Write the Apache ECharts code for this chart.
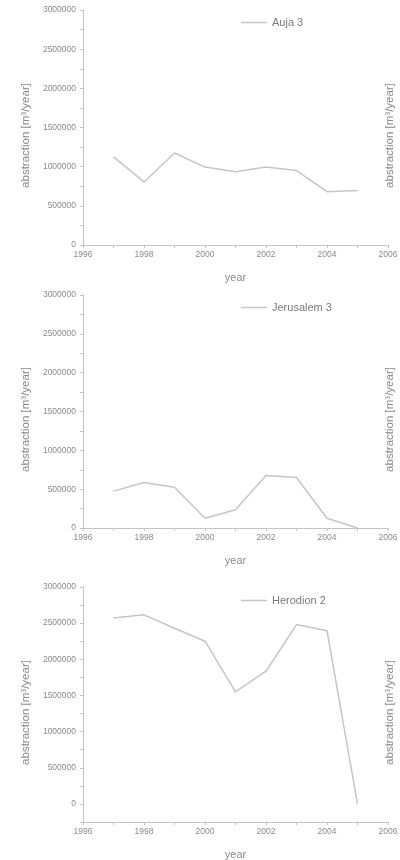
<!DOCTYPE html>
<html><head><meta charset="utf-8">
<script src="https://cdn.jsdelivr.net/npm/echarts@6/dist/echarts.min.js"></script>
<style>html,body{margin:0;padding:0;background:#fff}#c{width:400px;height:860px}</style>
</head><body><div id="c"></div>
<script>
const years = [1997, 1998, 1999, 2000, 2001, 2002, 2003, 2004, 2005];
const auja3 = [1125000, 805000, 1175000, 995000, 935000, 995000, 950000, 680000, 695000];
const jerusalem3 = [475000, 585000, 525000, 125000, 235000, 675000, 650000, 125000, 0];
const herodion2 = [2570000, 2615000, 2430000, 2250000, 1550000, 1835000, 2480000, 2395000, 0];
const seriesNames = ['Auja 3', 'Jerusalem 3', 'Herodion 2'];
const yMins = [0, 0, -250000];
const xTickLabels = ['1996', '1998', '2000', '2002', '2004', '2006'];
const yTitle = 'abstraction [m³/year]';
const xTitle = 'year';

const allData = [auja3, jerusalem3, herodion2];
const grids = [{top: 10, height: 235}, {top: 295, height: 233}, {top: 587, height: 235}];
const legendTops = [12, 297, 590];
const axisColor = '#c4c4c4';
const textColor = '#8a8a8a';
const font = 'Arial, "Liberation Sans", sans-serif';

const option = {animation: false, grid: [], xAxis: [], yAxis: [], series: [], legend: []};
grids.forEach((g, i) => {
  option.grid.push({left: 83, right: 12, top: g.top, height: g.height, containLabel: false, outerBoundsMode: 'none'});
  option.xAxis.push({
    type: 'value', gridIndex: i, min: 1996, max: 2006, interval: 1,
    name: xTitle, nameLocation: 'middle', nameGap: 27,
    nameTextStyle: {color: textColor, fontSize: 11, fontFamily: font},
    axisLine: {onZero: false, lineStyle: {color: axisColor, width: 1}},
    axisTick: {show: true, length: 3, lineStyle: {color: axisColor}},
    axisLabel: {color: textColor, fontSize: 8.5, fontFamily: font, margin: 5,
      formatter: v => (xTickLabels.indexOf(String(v)) >= 0 ? String(v) : '')},
    splitLine: {show: false}
  });
  option.yAxis.push({
    type: 'value', gridIndex: i, min: yMins[i], max: 3000000, interval: 250000,
    name: yTitle, nameLocation: 'middle', nameGap: 49, nameRotate: 90,
    nameTextStyle: {color: textColor, fontSize: 11.5, fontFamily: font, padding: [0, 16, 0, 0]},
    axisLine: {show: true, onZero: false, lineStyle: {color: axisColor, width: 1}},
    axisTick: {show: true, length: 3, lineStyle: {color: axisColor}},
    axisLabel: {color: textColor, fontSize: 8.5, fontFamily: font, margin: 7,
      formatter: v => (v % 500000 === 0 ? String(v) : '')},
    splitLine: {show: false}
  });
  option.yAxis.push({
    type: 'value', gridIndex: i, position: 'right', min: yMins[i], max: 3000000,
    name: yTitle, nameLocation: 'middle', nameGap: -4, nameRotate: 90,
    nameTextStyle: {color: textColor, fontSize: 11.5, fontFamily: font, padding: [0, 16, 0, 0]},
    axisLine: {show: false}, axisTick: {show: false}, axisLabel: {show: false},
    splitLine: {show: false}
  });
  option.series.push({
    name: seriesNames[i], type: 'line', xAxisIndex: i, yAxisIndex: i * 2,
    data: years.map((y, k) => [y, allData[i][k]]),
    symbol: 'none', lineStyle: {color: '#c6c6c6', width: 1.5}, itemStyle: {color: '#c6c6c6'}
  });
  option.legend.push({
    data: [{name: seriesNames[i], icon: 'rect'}], left: 236, top: legendTops[i],
    itemWidth: 26, itemHeight: 1.5, itemGap: 4,
    itemStyle: {color: '#c6c6c6'},
    textStyle: {color: '#7a7a7a', fontSize: 11, fontFamily: font}
  });
});
const chart = echarts.init(document.getElementById('c'), null, {renderer: 'canvas'});
chart.setOption(option);
</script></body></html>
